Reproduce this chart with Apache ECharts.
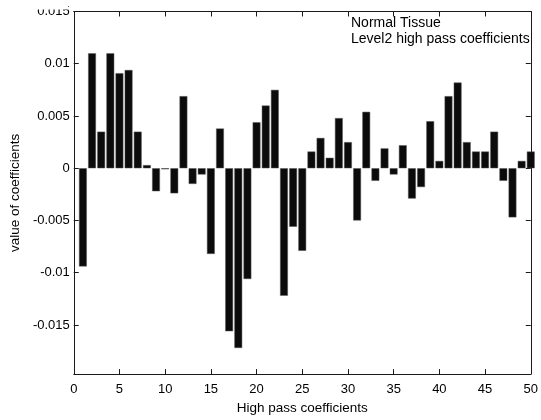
<!DOCTYPE html>
<html>
<head>
<meta charset="utf-8">
<script src="https://cdn.jsdelivr.net/npm/echarts@6/dist/echarts.min.js"></script>
<style>
  html, body { margin: 0; padding: 0; background: #fff; }
  #chart { width: 541px; height: 420px; }
</style>
</head>
<body>
<div id="chart"></div>
<script>
// ---- data ----
const indices = [1,2,3,4,5,6,7,8,9,10,11,12,13,14,15,16,17,18,19,20,21,22,23,24,25,
                 26,27,28,29,30,31,32,33,34,35,36,37,38,39,40,41,42,43,44,45,46,47,48,49,50];
const coefficients = [
  -0.0094, 0.0110, 0.0035, 0.0110, 0.0091, 0.0094, 0.0035, 0.0003, -0.0022, -0.0001,
  -0.0024, 0.0069, -0.0015, -0.0006, -0.0082, 0.0038, -0.0156, -0.0172, -0.0106, 0.0044,
   0.0060, 0.0075, -0.0122, -0.0056, -0.0079, 0.0016, 0.0029, 0.0010, 0.0048, 0.0025,
  -0.0050, 0.0054, -0.0012, 0.0019, -0.0006, 0.0022, -0.0029, -0.0018, 0.0045, 0.0007,
   0.0069, 0.0082, 0.0025, 0.0016, 0.0016, 0.0035, -0.0012, -0.0047, 0.0007, 0.0016
];
const yTicks = [-0.015, -0.01, -0.005, 0, 0.005, 0.01, 0.015];
const xTickInterval = 5;
const annotationLines = ['Normal Tissue', 'Level2 high pass coefficients'];
const xName = 'High pass coefficients';
const yName = 'value of coefficients';

const barData = indices.map((x, i) => [x, coefficients[i]]);
const FONT = '"Liberation Sans", Arial, sans-serif';
const fmt = v => String(parseFloat(Number(v).toFixed(4)));

const chart = echarts.init(document.getElementById('chart'), null, { renderer: 'canvas' });
const axisLine = { show: true, onZero: false, lineStyle: { color: '#1a1a1a', width: 1 } };
const tick = { show: true, inside: true, length: 5, lineStyle: { color: '#1a1a1a', width: 1 } };

chart.setOption({
  animation: false,
  backgroundColor: '#fff',
  title: {
    text: annotationLines.join('\n'),
    left: 351, top: 15, padding: 0,
    textStyle: { fontFamily: FONT, fontSize: 14, fontWeight: 'normal', color: '#000', lineHeight: 16 }
  },
  grid: { left: 70.5, right: 5.5, top: 11.5, bottom: 43.5, containLabel: false },
  xAxis: [
    {
      type: 'value', position: 'bottom', min: 0, max: 50, interval: xTickInterval,
      axisLine: axisLine, axisTick: tick, splitLine: { show: false },
      axisLabel: { margin: 9, fontFamily: FONT, fontSize: 13, color: '#000' },
      name: xName, nameLocation: 'middle', nameGap: 23,
      nameTextStyle: { fontFamily: FONT, fontSize: 13.5, color: '#000' }
    },
    {
      type: 'value', position: 'top', min: 0, max: 50, interval: xTickInterval,
      axisLine: axisLine, axisTick: tick, splitLine: { show: false },
      axisLabel: { show: false }
    }
  ],
  yAxis: [
    {
      type: 'value', position: 'left', min: -0.0197, max: 0.015,
      axisLine: axisLine,
      axisTick: Object.assign({}, tick, { customValues: yTicks }),
      splitLine: { show: false },
      axisLabel: { customValues: yTicks, formatter: fmt, margin: 4, fontFamily: FONT, fontSize: 13, color: '#000' },
      name: yName, nameLocation: 'middle', nameGap: 50,
      nameTextStyle: { fontFamily: FONT, fontSize: 13.5, color: '#000' }
    },
    {
      type: 'value', position: 'right', min: -0.0197, max: 0.015,
      axisLine: axisLine,
      axisTick: Object.assign({}, tick, { customValues: yTicks }),
      splitLine: { show: false },
      axisLabel: { show: false }
    }
  ],
  series: [{
    type: 'bar',
    xAxisIndex: 0, yAxisIndex: 0,
    data: barData,
    barWidth: 7.8,
    clip: true,
    itemStyle: { color: '#0b0b0b', borderColor: '#555', borderWidth: 0.5 }
  }],
  graphic: [{
    type: 'rect', z: 100,
    shape: { x: 0, y: 0, width: 68, height: 9.5 },
    style: { fill: '#fff' }
  }]
});
</script>
</body>
</html>
